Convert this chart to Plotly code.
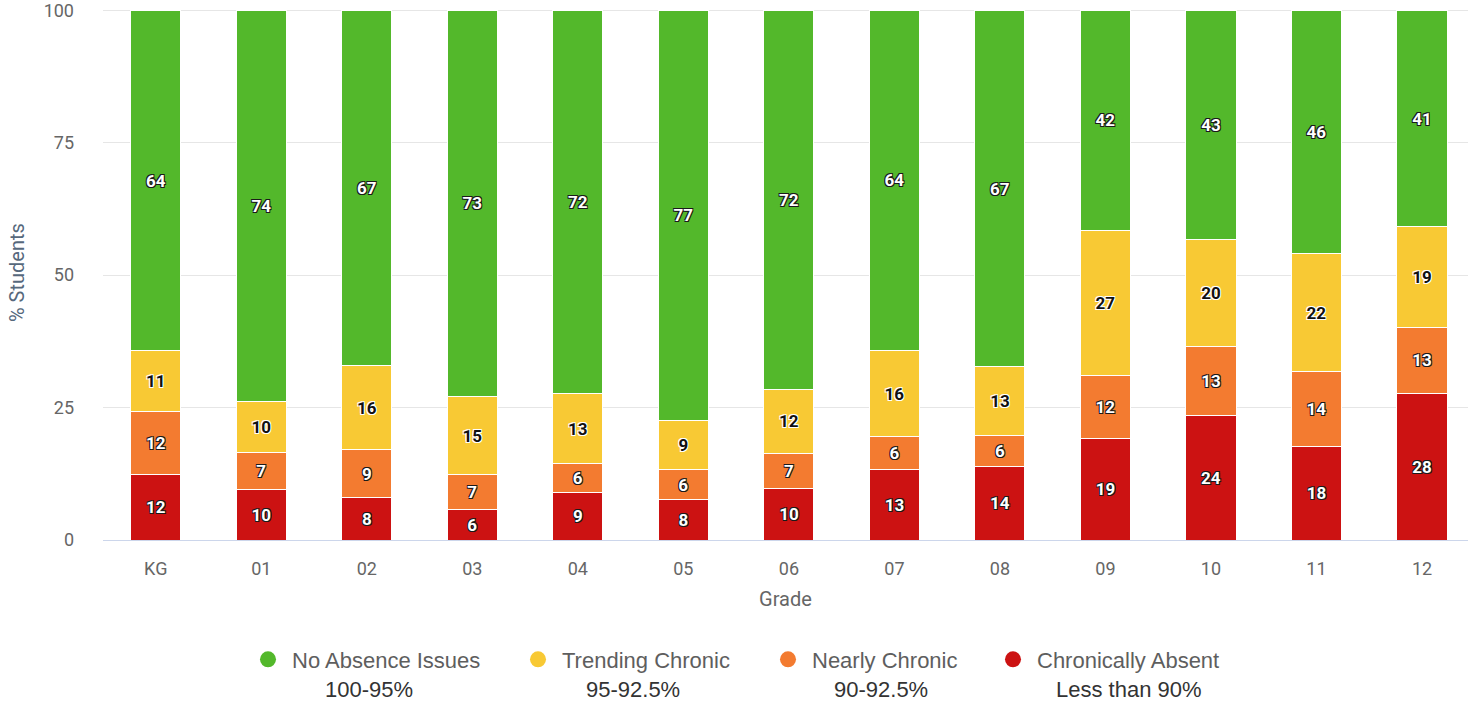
import plotly.graph_objects as go

grades = ["KG", "01", "02", "03", "04", "05", "06", "07", "08", "09", "10", "11", "12"]

chronically_absent = [12.3, 9.6, 8.0, 5.7, 8.9, 7.6, 9.8, 13.3, 13.9, 19.2, 23.6, 17.6, 27.6]
nearly_chronic     = [12.0, 6.9, 9.0, 6.6, 5.6, 5.7, 6.6, 6.2, 5.9, 11.9, 13.0, 14.3, 12.6]
trending_chronic   = [11.4, 9.7, 16.0, 14.8, 13.1, 9.3, 12.0, 16.3, 12.9, 27.3, 20.2, 22.1, 18.9]
no_absence_issues  = [64.3, 73.8, 67.0, 72.9, 72.4, 77.4, 71.6, 64.2, 67.3, 41.6, 43.2, 46.0, 40.9]

series_names = ["No Absence Issues", "Trending Chronic", "Nearly Chronic", "Chronically Absent"]
series_ranges = ["100-95%", "95-92.5%", "90-92.5%", "Less than 90%"]
colors = {"No Absence Issues": "#53b82b", "Trending Chronic": "#f8c934",
          "Nearly Chronic": "#f37b30", "Chronically Absent": "#cc1212"}

dark_outline = "-1px -1px 0 #1a1a1a, 1px -1px 0 #1a1a1a, -1px 1px 0 #1a1a1a, 1px 1px 0 #1a1a1a"
light_outline = "-1px -1px 0 #ffffff, 1px -1px 0 #ffffff, -1px 1px 0 #ffffff, 1px 1px 0 #ffffff"

fig = go.Figure()

stack = [("Chronically Absent", chronically_absent, "#ffffff", dark_outline),
         ("Nearly Chronic", nearly_chronic, "#ffffff", dark_outline),
         ("Trending Chronic", trending_chronic, "#111111", light_outline),
         ("No Absence Issues", no_absence_issues, "#ffffff", dark_outline)]

for name, vals, tcol, shadow in stack:
    fig.add_trace(go.Bar(
        x=grades, y=vals, name=name, showlegend=False,
        marker=dict(color=colors[name], line=dict(color="#ffffff", width=1)),
        width=0.475,
        texttemplate="%{y:.0f}", textposition="inside", insidetextanchor="middle",
        textangle=0, constraintext="none",
        textfont=dict(family="Roboto, Arial, sans-serif", size=17, color=tcol,
                      weight="bold", shadow=shadow),
        hovertemplate=name + ": %{y:.1f}%<extra>%{x}</extra>",
    ))

# legend entries (circle markers), one legend box each
PLOT_L, PLOT_W = 103, 1365
PLOT_T, PLOT_H = 7, 533
marker_px = [268, 538, 788, 1013]
legend_keys = ["legend", "legend2", "legend3", "legend4"]
for i, name in enumerate(series_names):
    fig.add_trace(go.Scatter(
        x=[None], y=[None], mode="markers", name=name, legend=legend_keys[i],
        marker=dict(color=colors[name], size=17, symbol="circle"),
        showlegend=True,
    ))

def py(px):
    return (PLOT_T + PLOT_H - px) / PLOT_H

def pxx(px):
    return (px - PLOT_L) / PLOT_W

legend_common = dict(orientation="h", xanchor="left", yanchor="middle",
                     y=py(660), bgcolor="rgba(0,0,0,0)",
                     font=dict(family="Liberation Sans, Arial, sans-serif", size=22, color="#5e5e5e"),
                     itemwidth=38, borderwidth=0)
layout_legends = {}
for i, key in enumerate(legend_keys):
    layout_legends[key] = dict(legend_common, x=pxx(marker_px[i] - 24))

range_px = [369, 633, 881, 1129]
annotations = []
for i, txt in enumerate(series_ranges):
    annotations.append(dict(
        text=txt, xref="paper", yref="paper",
        x=pxx(range_px[i]), y=py(690),
        xanchor="center", yanchor="middle", showarrow=False,
        font=dict(family="Liberation Sans, Arial, sans-serif", size=22, color="#333333"),
    ))

# y-axis title
annotations.append(dict(
    text="% Students", xref="paper", yref="paper", x=pxx(17), y=py(272),
    xanchor="center", yanchor="middle", textangle=-90, showarrow=False,
    font=dict(family="Roboto, Arial, sans-serif", size=20, color="#56687c"),
))

fig.update_layout(
    width=1468, height=703,
    margin=dict(l=PLOT_L, r=0, t=PLOT_T, b=703 - PLOT_T - PLOT_H),
    paper_bgcolor="#ffffff", plot_bgcolor="#ffffff",
    barmode="stack",
    annotations=annotations,
    font=dict(family="Roboto, Arial, sans-serif"),
    xaxis=dict(
        range=[-0.5, 12.436], fixedrange=True,
        showline=True, linecolor="#ccd6eb", linewidth=1,
        showgrid=False, ticks="", ticklabelstandoff=12,
        tickfont=dict(family="Roboto, Arial, sans-serif", size=18, color="#666666"),
        title=dict(text="Grade", standoff=14,
                   font=dict(family="Roboto, Arial, sans-serif", size=20, color="#666666")),
    ),
    yaxis=dict(
        range=[0, 100.25], tickvals=[0, 25, 50, 75, 100],
        showgrid=True, gridcolor="#e6e6e6", gridwidth=1, zeroline=False,
        ticks="", ticklabelstandoff=28, ticklabeloverflow="allow",
        tickfont=dict(family="Roboto, Arial, sans-serif", size=18, color="#666666"),
    ),
    **layout_legends,
)

fig.write_html("out.html", config={"displayModeBar": False},
               post_script="document.body.style.margin='0';document.body.style.overflow='hidden';")
